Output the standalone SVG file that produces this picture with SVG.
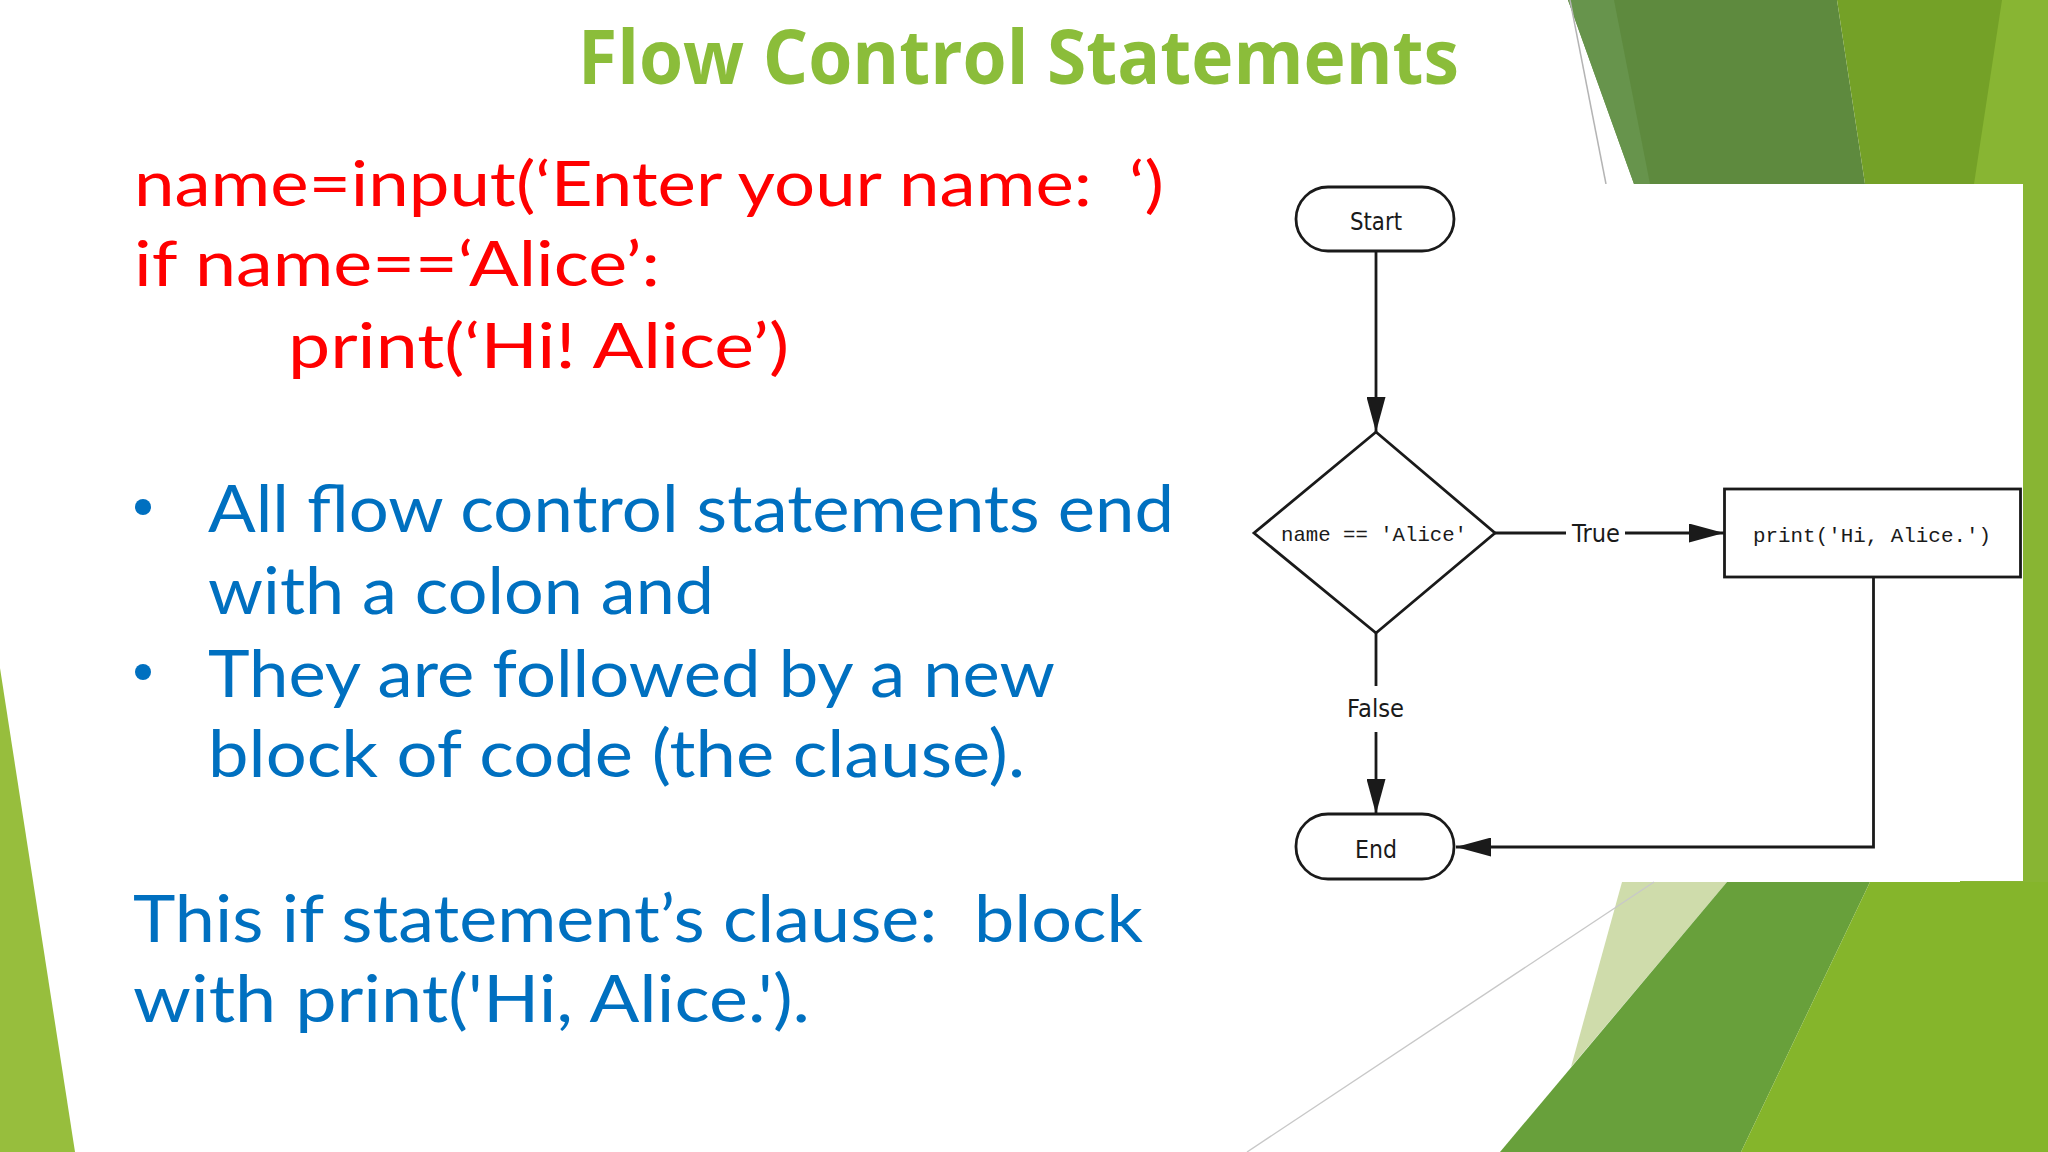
<svg xmlns="http://www.w3.org/2000/svg" width="2048" height="1152" viewBox="0 0 2048 1152">
<defs>
<style>
.title{font-family:"Open Sans","Liberation Sans",sans-serif;font-weight:bold;font-size:76px;fill:#8BBD3A}
.code{font-family:Lato,"Open Sans","Liberation Sans",sans-serif;font-size:62px;fill:#FF0000}
.body{font-family:Lato,"Open Sans","Liberation Sans",sans-serif;font-size:65px;fill:#0070C0}
.fc{fill:none;stroke:#1a1a1a;stroke-width:2.8}
.node{fill:#ffffff;stroke:#1a1a1a;stroke-width:2.8}
.lbl{font-family:"DejaVu Sans","Liberation Sans",sans-serif;font-size:25px;fill:#1a1a1a}
.mono{font-family:"Liberation Mono","DejaVu Sans Mono",monospace;font-size:21px;fill:#1a1a1a}
</style>
<marker id="arr" markerUnits="userSpaceOnUse" viewBox="0 0 35 19" refX="35" refY="9.5" markerWidth="35" markerHeight="19" orient="auto">
<path d="M0,0 L35,9.5 L0,19 z" fill="#1a1a1a"/>
</marker>
</defs>
<rect x="0" y="0" width="2048" height="1152" fill="#ffffff"/>
<g id="background">
<polygon points="0,668 0,1152 75,1152" fill="#97BE3D"/>
<rect x="1960" y="0" width="88" height="1152" fill="#88B533"/>
<polygon points="1568,0 1837,0 1865,184 1634,184" fill="#5E8A3E"/>
<polygon points="1568,0 1614,0 1650,184 1634,184" fill="#67944C"/>
<polygon points="1837,0 2002,0 1974,184 1865,184" fill="#74A127"/>
<line x1="1570" y1="0" x2="1606" y2="184" stroke="#b4b4b4" stroke-width="1.5"/>
<polygon points="1622,882 1727,882 1571,1067" fill="#CFDCAB"/>
<polygon points="1727,882 1870,882 1741,1152 1500,1152" fill="#68A03B"/>
<polygon points="1870,882 2048,882 2048,1152 1741,1152" fill="#85B52B"/>
<line x1="1247" y1="1152" x2="1654" y2="882" stroke="#c8c8c8" stroke-width="1.4"/>
<rect x="1230" y="184" width="793" height="697" fill="#ffffff"/>
</g>
<g id="title">
<text class="title" x="578" y="84" textLength="881" lengthAdjust="spacingAndGlyphs">Flow Control Statements</text>
</g>
<g id="code">
<text class="code" x="134" y="206" textLength="1030" lengthAdjust="spacingAndGlyphs" xml:space="preserve">name=input(‘Enter your name:  ‘)</text>
<text class="code" x="134" y="286" textLength="526" lengthAdjust="spacingAndGlyphs">if name==‘Alice’:</text>
<text class="code" x="288" y="368" textLength="501" lengthAdjust="spacingAndGlyphs">print(‘Hi! Alice’)</text>
</g>
<g id="bullets">
<circle cx="143" cy="507" r="8" fill="#0070C0"/>
<circle cx="143" cy="672" r="8" fill="#0070C0"/>
<text class="body" x="208" y="532" textLength="966" lengthAdjust="spacingAndGlyphs">All flow control statements end</text>
<text class="body" x="208" y="614" textLength="506" lengthAdjust="spacingAndGlyphs">with a colon and</text>
<text class="body" x="208" y="697" textLength="847" lengthAdjust="spacingAndGlyphs">They are followed by a new</text>
<text class="body" x="208" y="777" textLength="817" lengthAdjust="spacingAndGlyphs">block of code (the clause).</text>
<text class="body" x="133" y="942" textLength="1010" lengthAdjust="spacingAndGlyphs" xml:space="preserve">This if statement’s clause:  block</text>
<text class="body" x="133" y="1022" textLength="677" lengthAdjust="spacingAndGlyphs">with print('Hi, Alice.').</text>
</g>
<g id="connectors">
<line class="fc" x1="1376" y1="251" x2="1376" y2="432" marker-end="url(#arr)"/>
<line class="fc" x1="1495" y1="533" x2="1566" y2="533"/>
<line class="fc" x1="1625" y1="533" x2="1724" y2="533" marker-end="url(#arr)"/>
<line class="fc" x1="1376" y1="633" x2="1376" y2="686"/>
<line class="fc" x1="1376" y1="732" x2="1376" y2="814" marker-end="url(#arr)"/>
<polyline class="fc" points="1873.5,577 1873.5,847 1456,847" marker-end="url(#arr)"/>
<text class="lbl" x="1572" y="542" textLength="48" lengthAdjust="spacingAndGlyphs">True</text>
<text class="lbl" x="1347" y="717" textLength="57" lengthAdjust="spacingAndGlyphs">False</text>
</g>
<g id="node-start">
<rect class="node" x="1296" y="187" width="158" height="64" rx="32" ry="32"/>
<text class="lbl" x="1350" y="230" textLength="52" lengthAdjust="spacingAndGlyphs">Start</text>
</g>
<g id="node-decision">
<polygon class="node" points="1376,432 1495,533 1376,633 1254,533"/>
<text class="mono" x="1281" y="541" textLength="186" lengthAdjust="spacingAndGlyphs" xml:space="preserve">name == 'Alice'</text>
</g>
<g id="node-print">
<rect class="node" x="1724.5" y="489" width="296" height="88"/>
<text class="mono" x="1753" y="542" textLength="238" lengthAdjust="spacingAndGlyphs">print('Hi, Alice.')</text>
</g>
<g id="node-end">
<rect class="node" x="1296" y="814" width="158" height="65" rx="32" ry="32"/>
<text class="lbl" x="1355" y="858" textLength="42" lengthAdjust="spacingAndGlyphs">End</text>
</g>
</svg>
